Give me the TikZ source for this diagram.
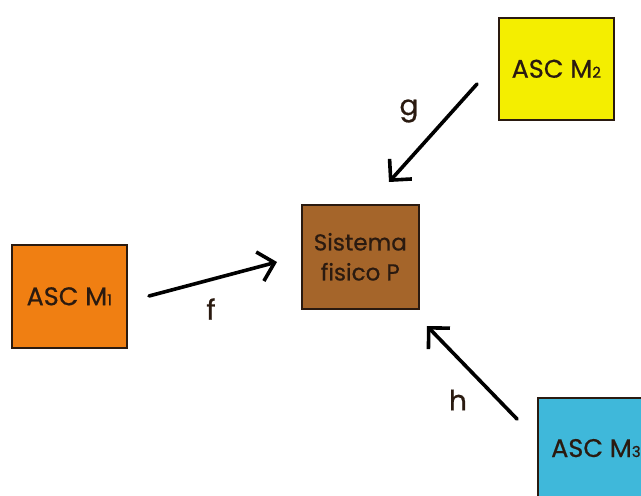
\documentclass[tikz,border=0pt]{standalone}
\usepackage{fontspec}
\setmainfont{Poppins}[FakeBold=0.6, AutoFakeBold=0.6]
\usetikzlibrary{arrows.meta}
\definecolor{ascorange}{HTML}{F07F12}
\definecolor{ascyellow}{HTML}{F4EE00}
\definecolor{asccyan}{HTML}{3FB8DA}
\definecolor{sysbrown}{HTML}{A5652A}
\definecolor{inkdark}{HTML}{2A1A10}
\newcommand{\idx}[1]{{\fontsize{15}{15}\selectfont #1}}
\tikzset{
  box/.style={draw=inkdark, line width=1.6pt, inner sep=0pt, anchor=north west,
    text=inkdark, font=\fontsize{25}{30}\selectfont, align=center},
  ascfont/.style={font=\fontsize{25.5}{30}\selectfont},
  sysfont/.style={font=\fontsize{23}{30}\selectfont},
  link/.style={line width=3.6pt, draw=black, line cap=round,
    -{Straight Barb[length=15pt, width=30pt, line width=3.6pt]}},
  lbl/.style={text=inkdark, font=\fontsize{28}{28}\selectfont}
}
\begin{document}
\begin{tikzpicture}[x=1pt, y=-1pt]
  \useasboundingbox (0,0) rectangle (641,496);
  % boxes
  \node[box, ascfont, fill=ascorange, minimum width=115pt, minimum height=103pt] (m1) at (11,244) {ASC M\idx{1}};
  \node[box, sysfont, fill=sysbrown, minimum width=117pt, minimum height=104pt] (p) at (301,204) {Sistema\\fisico P};
  \node[box, ascfont, fill=ascyellow, minimum width=115pt, minimum height=102pt] (m2) at (498,17) {ASC M\idx{2}};
  \node[box, fill=asccyan, minimum width=120pt, minimum height=120pt] (m3) at (537,397) {};
  \node[anchor=base west, inner sep=0pt, text=inkdark, ascfont] (m3t) at (551,457) {ASC M\idx{3}};
  % arrow end points
  \coordinate (fs) at (149,296);
  \coordinate (fe) at (277,262);
  \coordinate (gs) at (477,84);
  \coordinate (ge) at (389,182);
  \coordinate (hs) at (517,419);
  \coordinate (he) at (427,326);
  \draw[link] (fs) -- (fe);
  \draw[link] (gs) -- (ge);
  \draw[link] (hs) -- (he);
  % labels
  \node[lbl] (f) at (211,309) {f};
  \node[lbl] (g) at (409,111) {g};
  \node[lbl] (h) at (458,400) {h};
\end{tikzpicture}
\end{document}
